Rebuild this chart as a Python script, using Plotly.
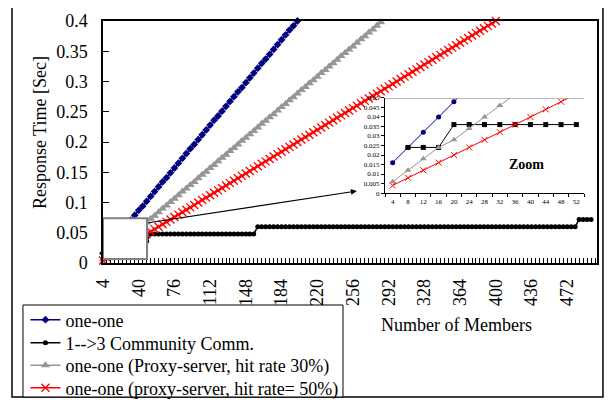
import plotly.graph_objects as go

FONT = "Liberation Serif, Times New Roman, Times, serif"

# ---------------- data ----------------
# Number of Members categories: 4, 8, 12, ...
one_one = [0.016, 0.024, 0.032, 0.040, 0.047, 0.055, 0.063, 0.071, 0.079, 0.087,
           0.094, 0.102, 0.110, 0.118, 0.126, 0.134, 0.141, 0.149, 0.157, 0.165,
           0.173, 0.181, 0.189, 0.196, 0.204, 0.212, 0.220, 0.228, 0.236, 0.243,
           0.251, 0.259, 0.267, 0.275, 0.283, 0.290, 0.298, 0.306, 0.314, 0.322,
           0.330, 0.337, 0.345, 0.353, 0.361, 0.369, 0.377, 0.385, 0.392, 0.400]
one_one_x = list(range(4, 4 + 4 * len(one_one), 4))

# 1-->3 community communication: step levels (value, number of consecutive categories)
community_runs = [(0.024, 3), (0.036, 8), (0.048, 27), (0.060, 81), (0.072, 4)]
community = []
for v, n in community_runs:
    community += [v] * n
community_x = list(range(8, 8 + 4 * len(community), 4))

proxy30 = [0.006, 0.011, 0.017, 0.022, 0.028, 0.034, 0.039, 0.045, 0.050, 0.056,
           0.062, 0.067, 0.073, 0.078, 0.084, 0.090, 0.095, 0.101, 0.106, 0.112,
           0.118, 0.123, 0.129, 0.134, 0.140, 0.146, 0.151, 0.157, 0.162, 0.168,
           0.174, 0.179, 0.185, 0.190, 0.196, 0.202, 0.207, 0.213, 0.218, 0.224,
           0.230, 0.235, 0.241, 0.246, 0.252, 0.258, 0.263, 0.269, 0.274, 0.280,
           0.286, 0.291, 0.297, 0.302, 0.308, 0.314, 0.319, 0.325, 0.330, 0.336,
           0.342, 0.347, 0.353, 0.358, 0.364, 0.370, 0.375, 0.381, 0.386, 0.392,
           0.398, 0.403]
proxy30_x = list(range(4, 4 + 4 * len(proxy30), 4))

proxy50 = [0.004, 0.008, 0.012, 0.016, 0.020, 0.024, 0.028, 0.032, 0.036, 0.040,
           0.044, 0.048, 0.052, 0.056, 0.060, 0.064, 0.068, 0.072, 0.076, 0.080,
           0.084, 0.088, 0.092, 0.096, 0.100, 0.104, 0.108, 0.112, 0.116, 0.120,
           0.124, 0.128, 0.132, 0.136, 0.140, 0.144, 0.148, 0.152, 0.156, 0.160,
           0.164, 0.168, 0.172, 0.176, 0.180, 0.184, 0.188, 0.192, 0.196, 0.200,
           0.204, 0.208, 0.212, 0.216, 0.220, 0.224, 0.228, 0.232, 0.236, 0.240,
           0.244, 0.248, 0.252, 0.256, 0.260, 0.264, 0.268, 0.272, 0.276, 0.280,
           0.284, 0.288, 0.292, 0.296, 0.300, 0.304, 0.308, 0.312, 0.316, 0.320,
           0.324, 0.328, 0.332, 0.336, 0.340, 0.344, 0.348, 0.352, 0.356, 0.360,
           0.364, 0.368, 0.372, 0.376, 0.380, 0.384, 0.388, 0.392, 0.396, 0.400,
           0.404]
proxy50_x = list(range(4, 4 + 4 * len(proxy50), 4))

# zoom inset data
zoom_x = [4, 8, 12, 16, 20, 24, 28, 32, 36, 40, 44, 48, 52]
zoom_one_one = [0.016, 0.024, 0.032, 0.040, 0.048, 0.056]
zoom_community = [None, 0.024, 0.024, 0.024, 0.036, 0.036, 0.036, 0.036, 0.036,
                  0.036, 0.036, 0.036, 0.036]
zoom_proxy30 = [0.006, 0.012, 0.018, 0.024, 0.028, 0.034, 0.040, 0.046, 0.052]
zoom_proxy50 = [0.004, 0.008, 0.012, 0.016, 0.020, 0.024, 0.028, 0.032, 0.036,
                0.040, 0.044, 0.048, 0.052]

y_ticks = [0, 0.05, 0.1, 0.15, 0.2, 0.25, 0.3, 0.35, 0.4]
y_tick_text = ["0", "0.05", "0.1", "0.15", "0.2", "0.25", "0.3", "0.35", "0.4"]
zoom_y_ticks = [0, 0.005, 0.01, 0.015, 0.02, 0.025, 0.03, 0.035, 0.04, 0.045, 0.05]
zoom_y_text = ["0", "0.005", "0.01", "0.015", "0.02", "0.025", "0.03", "0.035",
               "0.04", "0.045", "0.05"]

names = ["one-one", "1-->3 Community Comm.",
         "one-one (Proxy-server, hit rate 30%)",
         "one-one (proxy-server, hit rate= 50%)"]

BLUE = "#000080"
BLACK = "#000000"
GRAY = "#969696"
RED = "#FF0000"

fig = go.Figure()

# ---------------- main traces ----------------
fig.add_trace(go.Scatter(x=one_one_x, y=one_one, mode="lines+markers", name=names[0],
                         legend="legend",
                         line=dict(color=BLUE, width=1.5),
                         marker=dict(symbol="diamond", size=6, color=BLUE),
                         cliponaxis=False))
fig.add_trace(go.Scatter(x=community_x, y=community, mode="lines+markers", name=names[1],
                         legend="legend2",
                         line=dict(color=BLACK, width=1.5),
                         marker=dict(symbol="circle", size=5, color=BLACK),
                         cliponaxis=False))
fig.add_trace(go.Scatter(x=proxy30_x, y=proxy30, mode="lines+markers", name=names[2],
                         legend="legend3",
                         line=dict(color=GRAY, width=1.5),
                         marker=dict(symbol="triangle-up", size=8, color=GRAY),
                         cliponaxis=False))
fig.add_trace(go.Scatter(x=proxy50_x, y=proxy50, mode="lines+markers", name=names[3],
                         legend="legend4",
                         line=dict(color=RED, width=1.5),
                         marker=dict(symbol="x-thin", size=8, color=RED,
                                     line=dict(color=RED, width=1.3)),
                         cliponaxis=False))

# ---------------- inset traces ----------------
fig.add_trace(go.Scatter(x=zoom_x[:len(zoom_one_one)], y=zoom_one_one, mode="lines+markers",
                         xaxis="x3", yaxis="y3", showlegend=False,
                         line=dict(color=BLUE, width=1),
                         marker=dict(symbol="circle", size=5, color=BLUE)))
fig.add_trace(go.Scatter(x=zoom_x, y=zoom_community, mode="lines+markers",
                         xaxis="x3", yaxis="y3", showlegend=False,
                         line=dict(color=BLACK, width=1),
                         marker=dict(symbol="square", size=5, color=BLACK)))
fig.add_trace(go.Scatter(x=zoom_x[:len(zoom_proxy30)], y=zoom_proxy30, mode="lines+markers",
                         xaxis="x3", yaxis="y3", showlegend=False,
                         line=dict(color=GRAY, width=1),
                         marker=dict(symbol="triangle-up", size=6, color=GRAY)))
fig.add_trace(go.Scatter(x=zoom_x, y=zoom_proxy50, mode="lines+markers",
                         xaxis="x3", yaxis="y3", showlegend=False,
                         line=dict(color=RED, width=1),
                         marker=dict(symbol="x-thin", size=6, color=RED,
                                     line=dict(color=RED, width=1))))

tickfont = dict(family=FONT, size=18, color="black")
smallfont = dict(family=FONT, size=7, color="black")
legfont = dict(family=FONT, size=18, color="black")


def leg(ypos):
    return dict(x=-0.157, y=ypos, xanchor="left", yanchor="middle",
                borderwidth=0, bgcolor="rgba(0,0,0,0)", font=legfont,
                itemwidth=30)


# The page body has an 8px margin, so the figure is sized/offset to fit the window.
fig.update_layout(
    template="none",
    width=598, height=392,
    margin=dict(l=95, r=9, t=13, b=137, autoexpand=False),
    paper_bgcolor="white", plot_bgcolor="white",
    font=dict(family=FONT, color="black"),
    showlegend=True,
    legend=leg(-0.2355),
    legend2=leg(-0.3306),
    legend3=leg(-0.4236),
    legend4=leg(-0.5165),
    xaxis=dict(range=[4, 502], tickmode="linear", tick0=4, dtick=36,
               tickangle=-90, ticks="inside", ticklen=5, tickcolor="black",
               minor=dict(tickmode="linear", tick0=4, dtick=4, ticks="inside",
                          ticklen=5, tickcolor="black"),
               showline=True, mirror=True, linecolor="black", linewidth=1.5,
               showgrid=False, zeroline=False, tickfont=tickfont,
               ticklabelstandoff=7, automargin=False),
    yaxis=dict(range=[0, 0.4], tickmode="array", tickvals=y_ticks, ticktext=y_tick_text,
               ticks="inside", ticklen=6, tickcolor="black",
               showline=True, mirror=True, linecolor="black", linewidth=1.5,
               showgrid=False, zeroline=False, tickfont=tickfont,
               ticklabelstandoff=10, automargin=False),
    # inset frame
    xaxis2=dict(domain=[0.522, 0.978], anchor="y2", range=[0, 1],
                showline=True, mirror=True, linecolor="black", linewidth=1.5,
                showticklabels=False, ticks="", showgrid=False, zeroline=False,
                automargin=False),
    yaxis2=dict(domain=[0.211, 0.711], anchor="x2", range=[0, 1],
                showline=True, mirror=True, linecolor="black", linewidth=1.5,
                showticklabels=False, ticks="", showgrid=False, zeroline=False,
                automargin=False),
    # inset plot
    xaxis3=dict(domain=[0.5709, 0.9737], anchor="y3", range=[2, 54],
                tickmode="linear", tick0=4, dtick=4, ticks="",
                minor=dict(tickmode="linear", tick0=2, dtick=4, ticks="outside",
                           ticklen=3, tickcolor="black"),
                showline=True, linecolor="black", linewidth=1,
                showgrid=False, zeroline=False, tickfont=smallfont,
                ticklabelstandoff=2, automargin=False),
    yaxis3=dict(domain=[0.289, 0.682], anchor="x3", range=[0, 0.05],
                tickmode="array", tickvals=zoom_y_ticks, ticktext=zoom_y_text,
                ticks="outside", ticklen=3, tickcolor="black",
                showline=True, linecolor="black", linewidth=1,
                showgrid=False, zeroline=False, tickfont=smallfont,
                automargin=False),
    shapes=[
        # outer chart frame
        dict(type="rect", xref="paper", yref="paper",
             x0=-0.1842, x1=1.0121, y0=-0.5537, y1=1.095,
             line=dict(color="black", width=1.5), layer="below"),
        # legend box
        dict(type="rect", xref="paper", yref="paper",
             x0=-0.162, x1=0.4858, y0=-0.5537, y1=-0.1736,
             fillcolor="white", line=dict(color="black", width=1), layer="below"),
        # zoom box on the main chart
        dict(type="rect", xref="x", yref="y", x0=4, x1=48.4, y0=0.0066, y1=0.074,
             fillcolor="white", line=dict(color="#808080", width=2), layer="above"),
        # inset top line at 0.05
        dict(type="line", xref="x3 domain", yref="y3", x0=0, x1=1, y0=0.05, y1=0.05,
             line=dict(color="#A0A0A0", width=1.5), layer="above"),
    ],
    annotations=[
        dict(text="Response Time [Sec]", xref="paper", yref="paper",
             x=-0.1275, y=0.537, showarrow=False, textangle=-90,
             xanchor="center", yanchor="middle",
             font=dict(family=FONT, size=18, color="black")),
        dict(text="Number of Members", xref="paper", yref="paper",
             x=0.7146, y=-0.256, showarrow=False,
             xanchor="center", yanchor="middle",
             font=dict(family=FONT, size=18, color="black")),
        dict(text="<b>Zoom</b>", xref="paper", yref="paper",
             x=0.858, y=0.405, showarrow=False,
             xanchor="center", yanchor="middle",
             font=dict(family=FONT, size=14, color="black")),
        dict(text="", xref="paper", yref="paper", x=0.514, y=0.2975,
             showarrow=True, ax=-210, ay=32, arrowhead=2, arrowsize=1,
             arrowwidth=1.2, arrowcolor="black", standoff=0),
    ],
)

fig.write_html("out.html")
